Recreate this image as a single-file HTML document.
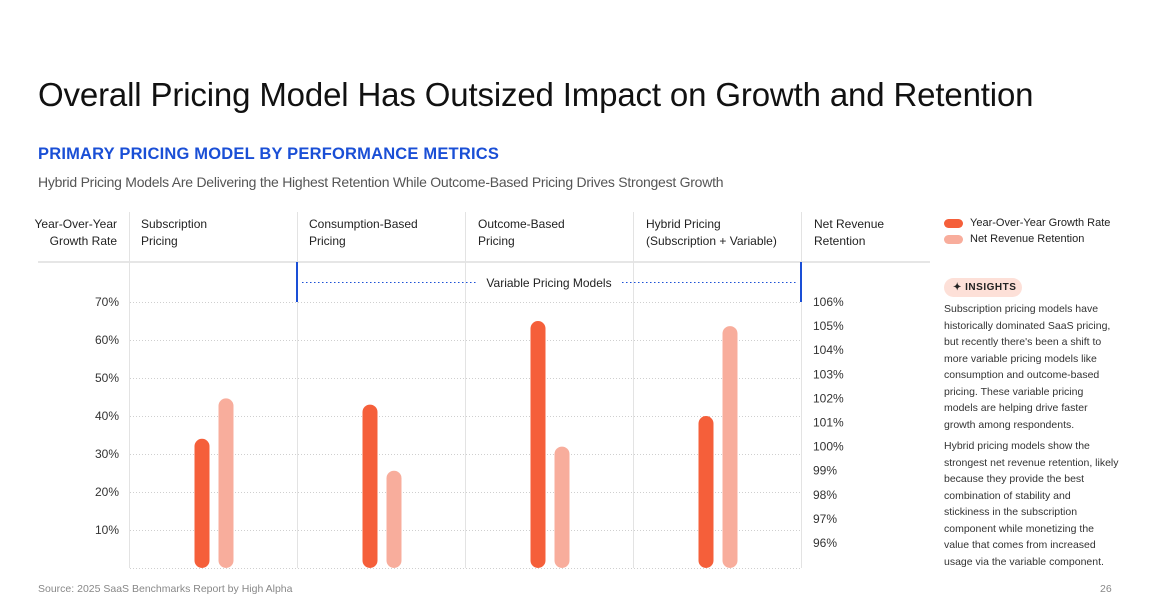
<!DOCTYPE html>
<html><head><meta charset="utf-8"><style>
*{margin:0;padding:0;box-sizing:border-box}
body{width:1152px;height:608px;background:#fff;font-family:"Liberation Sans",sans-serif;color:#111;position:relative;overflow:hidden}
.abs{position:absolute}
#title{left:38px;top:76px;font-size:33px;letter-spacing:-0.15px;font-weight:normal;color:#111;white-space:nowrap}
#sub{left:38px;top:145px;font-size:16.5px;color:#1a4fd6;font-weight:bold;letter-spacing:0.2px}
#desc{left:38px;top:174px;font-size:14px;color:#555;letter-spacing:-0.25px}
.hdr{font-size:12px;line-height:17px;color:#222;top:216px;white-space:nowrap}
.ins{left:944px;width:175px;font-size:10.5px;line-height:16.5px;color:#333}
</style></head><body>
<div id="title" class="abs">Overall Pricing Model Has Outsized Impact on Growth and Retention</div>
<div id="sub" class="abs">PRIMARY PRICING MODEL BY PERFORMANCE METRICS</div>
<div id="desc" class="abs">Hybrid Pricing Models Are Delivering the Highest Retention While Outcome-Based Pricing Drives Strongest Growth</div>

<div class="abs hdr" style="left:18px;width:99px;text-align:right">Year-Over-Year<br>Growth Rate</div>
<div class="abs hdr" style="left:141px">Subscription<br>Pricing</div>
<div class="abs hdr" style="left:309px">Consumption-Based<br>Pricing</div>
<div class="abs hdr" style="left:478px">Outcome-Based<br>Pricing</div>
<div class="abs hdr" style="left:646px">Hybrid Pricing<br>(Subscription + Variable)</div>
<div class="abs hdr" style="left:814px">Net Revenue<br>Retention</div>

<svg id="chart" class="abs" style="left:0;top:0" width="940" height="608"></svg>

<div class="abs" style="left:944px;top:219px;width:19px;height:9px;border-radius:5px;background:#f55f3a"></div>
<div class="abs" style="left:970px;top:217px;font-size:11px;color:#222">Year-Over-Year Growth Rate</div>
<div class="abs" style="left:944px;top:235px;width:19px;height:9px;border-radius:5px;background:#f8ad9c"></div>
<div class="abs" style="left:970px;top:233px;font-size:11px;color:#222">Net Revenue Retention</div>

<div class="abs" style="left:944px;top:278px;width:78px;height:19px;border-radius:10px;background:#fde0d8;font-size:10px;font-weight:bold;letter-spacing:0.5px;padding:4px 0 0 9px;color:#222">✦ INSIGHTS</div>
<div class="abs ins" style="top:301px">Subscription pricing models have historically dominated SaaS pricing, but recently there's been a shift to more variable pricing models like consumption and outcome-based pricing. These variable pricing models are helping drive faster growth among respondents.</div>
<div class="abs ins" style="top:438px">Hybrid pricing models show the strongest net revenue retention, likely because they provide the best combination of stability and stickiness in the subscription component while monetizing the value that comes from increased usage via the variable component.</div>

<div class="abs" style="left:38px;top:583px;font-size:10.5px;color:#888">Source: 2025 SaaS Benchmarks Report by High Alpha</div>
<div class="abs" style="left:1100px;top:583px;font-size:10.5px;color:#888">26</div>

<script>
const categories=["Subscription","Consumption-Based","Outcome-Based","Hybrid"];
const growthValues=[34,43,65,40];
const nrrValues=[102,99,100,105];
const leftTicks=[10,20,30,40,50,60,70];
const rightTicks=[96,97,98,99,100,101,102,103,104,105,106];

const NS="http://www.w3.org/2000/svg";
const svg=document.getElementById('chart');
function mk(t,a){const e=document.createElementNS(NS,t);for(const k in a)e.setAttribute(k,a[k]);svg.appendChild(e);return e;}
const yL=v=>568-v*3.8;
const yR=v=>543-(v-96)*24.1;
const baseY=568;
const colX=i=>129+i*168;
const colC=i=>colX(i)+84;

let e=mk('rect',{x:38,y:261,width:892,height:2,fill:'#e6e6e6'});

for(let i=0;i<=4;i++){
  e=mk('line',{x1:colX(i)+0.5,x2:colX(i)+0.5,y1:212,y2:568,stroke:'#e3e3e3','stroke-width':1});
  
}
leftTicks.forEach(t=>{
  e=mk('line',{x1:130,x2:801,y1:yL(t)+0.5,y2:yL(t)+0.5,stroke:'#cfcfcf','stroke-dasharray':'1 2'});
  
  e=mk('text',{x:119,y:yL(t)+4,'text-anchor':'end','font-size':12,fill:'#333','font-family':'Liberation Sans'});
  e.textContent=t+'%';
  
});
e=mk('line',{x1:130,x2:801,y1:baseY+0.5,y2:baseY+0.5,stroke:'#cfcfcf','stroke-dasharray':'1 2'});

rightTicks.forEach(t=>{
  e=mk('text',{x:813,y:yR(t)+4,'font-size':12,fill:'#333','font-family':'Liberation Sans'});
  e.textContent=t+'%';
  
});
e=mk('rect',{x:296,y:262,width:2,height:40,fill:'#1a4fd6'});
e=mk('rect',{x:800,y:262,width:2,height:40,fill:'#1a4fd6'});
e=mk('line',{x1:302,x2:478,y1:282.5,y2:282.5,stroke:'#1a4fd6','stroke-dasharray':'1.5 2.5'});
e=mk('line',{x1:622,x2:797,y1:282.5,y2:282.5,stroke:'#1a4fd6','stroke-dasharray':'1.5 2.5'});
e=mk('text',{x:549,y:287,'text-anchor':'middle','font-size':12,fill:'#222','font-family':'Liberation Sans'});
e.textContent='Variable Pricing Models';
const W=15;
categories.forEach((c,i)=>{
  let top=yL(growthValues[i]);
  e=mk('rect',{x:colC(i)-11-W/2,y:top,width:W,height:baseY-top,rx:7.5,fill:'#f55f3a'});
  
  top=yR(nrrValues[i]);
  e=mk('rect',{x:colC(i)+13-W/2,y:top,width:W,height:baseY-top,rx:7.5,fill:'#f8ad9c'});
  
});
</script>
</body></html>
